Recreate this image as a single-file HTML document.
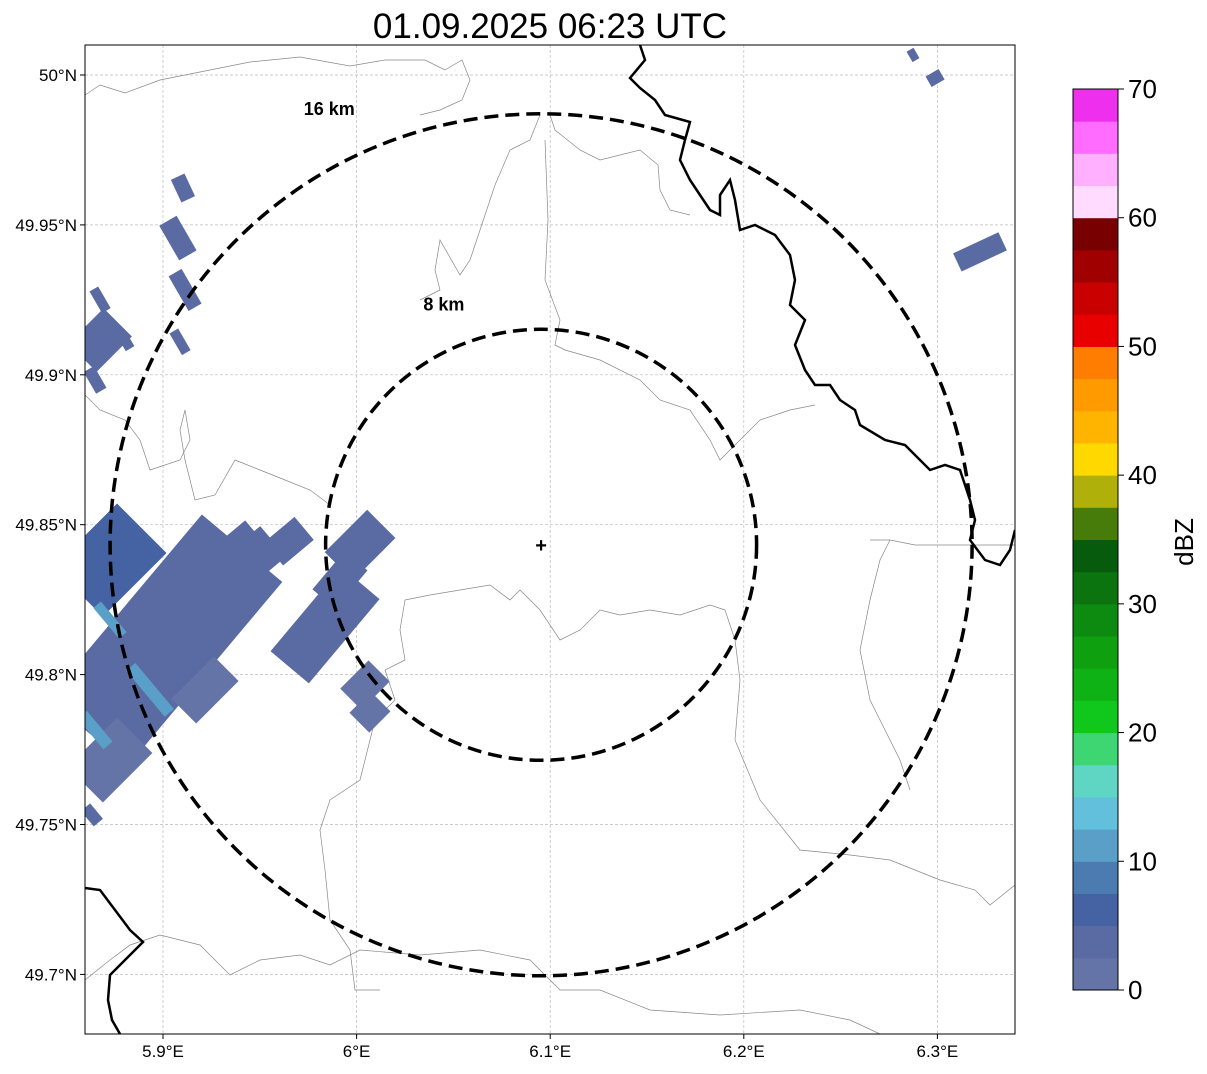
<!DOCTYPE html>
<html><head><meta charset="utf-8"><style>
body{margin:0;background:#fff;font-family:"Liberation Sans",sans-serif}
svg text{font-family:"Liberation Sans",sans-serif}
</style></head><body>
<svg id="c" width="1207" height="1069" viewBox="0 0 1207 1069" xmlns="http://www.w3.org/2000/svg">
<text x="550" y="38" font-size="35" text-anchor="middle">01.09.2025 06:23 UTC</text>
<defs><clipPath id="pc"><rect x="85" y="45" width="930" height="989"/></clipPath></defs>
<g id="map" clip-path="url(#pc)"></g>
<rect x="85" y="45" width="930" height="989" fill="none" stroke="#000" stroke-width="1"/>
<g id="axes"></g>
<g id="cbar"></g>
<text transform="translate(1193,542) rotate(-90)" font-size="26" text-anchor="middle">dBZ</text>
</svg>
<script>
const lonTicks=[5.9,6.0,6.1,6.2,6.3];
const lonLabels=["5.9°E","6°E","6.1°E","6.2°E","6.3°E"];
const latTicks=[50.0,49.95,49.9,49.85,49.8,49.75,49.7];
const latLabels=["50°N","49.95°N","49.9°N","49.85°N","49.8°N","49.75°N","49.7°N"];
const cbTicks=[0,10,20,30,40,50,60,70];
const cbColors=["#6574a7","#5a6ba3","#4562a3","#4b7bb1","#5a9fc8","#62c0dc","#5fd6c4","#3ed672","#10c81c","#0eb214","#0fa010","#0d8a10","#0b740f","#065c0c","#477b0a","#b0b00a","#ffd800","#ffb400","#ff9a00","#ff7d00","#e80000","#c80000","#a00000","#780000","#ffdcff","#ffb0ff","#ff6cff","#ee30ee"];
const radarCenter=[6.0953,49.8433];
const ringKm=[8,16];
const ringLabelLon=[6.0345,5.9727];
const ringLabelLat=[49.9215,49.9866];
// radar cells: lon, lat, length, width, dBZ, angle
const cellLon=[5.901,5.8726,5.8726,5.9372,5.9217,5.9837,6.0018,6.0043,6.0069,5.9914,5.9103,5.9077,5.9114,5.8675,5.8675,5.8804,5.9088,5.8649,6.322,6.2874,6.2988,5.8633,5.8933,5.8726,5.8649,5.945,5.965];
const cellLat=[49.8115,49.8382,49.7715,49.8425,49.7949,49.8165,49.8432,49.7965,49.7875,49.8316,49.9623,49.9456,49.9283,49.9116,49.925,49.9116,49.911,49.8983,49.941,50.0067,49.999,49.7532,49.7949,49.8182,49.7815,49.838,49.8445];
const cellLen=[240,90,70,50,60,110,60,40,30,50,25,40,40,50,25,20,25,25,50,12,15,20,60,40,40,60,40];
const cellWid=[105,70,50,28,35,50,40,30,28,30,15,20,15,40,10,10,10,12,20,8,12,12,12,10,12,40,30];
const cellDbz=[3,5,2,3,2,3,3,2,2,3,3,3,3,3,3,3,3,3,3,3,3,3,11,11,11,3,3];
const cellAng=[-50,-45,-45,-40,-45,-50,-45,-45,-45,-50,65,60,60,-45,60,60,60,60,-25,60,-30,50,50,50,50,-40,-40];

const X=lon=>163+(lon-5.9)*1936;
const Y=lat=>75+(50-lat)*2998;
const NS="http://www.w3.org/2000/svg";
function mk(tag,attrs,parent){const e=document.createElementNS(NS,tag);for(const k in attrs)e.setAttribute(k,attrs[k]);parent.appendChild(e);return e;}
const map=document.getElementById('map'),axes=document.getElementById('axes'),cbar=document.getElementById('cbar');
const colorFor=d=>cbColors[Math.max(0,Math.min(27,Math.floor(d/2.5)))];

lonTicks.forEach((t,i)=>{const x=X(t);
 const g=mk('line',{x1:x,x2:x,y1:45,y2:1034,stroke:'#bbb','stroke-width':0.7,'stroke-dasharray':'3,2'},map);
 
 mk('line',{x1:x,x2:x,y1:1034,y2:1039,stroke:'#000'},axes);
 const tx=mk('text',{x:x,y:1057,'font-size':17,'text-anchor':'middle'},axes);tx.textContent=lonLabels[i];
 });
latTicks.forEach((t,i)=>{const y=Y(t);
 const g=mk('line',{x1:85,x2:1015,y1:y,y2:y,stroke:'#bbb','stroke-width':0.7,'stroke-dasharray':'3,2'},map);
 
 mk('line',{x1:80,x2:85,y1:y,y2:y,stroke:'#000'},axes);
 const tx=mk('text',{x:77,y:y+6,'font-size':17,'text-anchor':'end'},axes);tx.textContent=latLabels[i];
 });

const thin=[
"85,95 100,85 125,93 160,80 200,72 250,62 300,57 350,66 385,60 425,60 445,70 462,60 470,80 462,100 440,110 420,115",
"540,115 530,140 510,150 495,185 480,230 470,260 460,275 440,240 435,270 440,290 420,300",
"550,115 555,130 580,150 600,160 640,150 658,165 660,190 670,210 690,215",
"545,140 548,220 545,280 560,320 555,345 565,350",
"85,395 100,410 125,420 140,440 150,470 180,460 190,440 185,410 180,430 185,460 195,500 215,495 235,460 260,470 285,480 310,490 330,505",
"405,600 430,595 460,590 490,585 510,600 520,590 540,610 560,640 580,630 600,610 620,615 650,610 680,615 710,605 725,610",
"405,600 400,630 405,660 385,670 395,700 375,720 370,740 360,780 330,800 320,830 325,870 330,920 350,950 355,990 380,990",
"565,350 600,360 640,380 660,400 690,410 710,440 720,460 740,440 760,420 790,410 815,405",
"725,610 735,640 740,680 735,740 760,800 800,850 850,855 890,860 940,880 975,890 990,905 1015,885",
"85,980 110,960 130,945 160,935 200,945 230,975 260,960 300,955 330,965 360,950 420,955 480,950 530,960 560,990 600,990 650,1010 720,1015 800,1010 850,1020 880,1034",
"870,540 890,540 915,545 960,545 1015,545",
"890,540 880,560 870,600 860,650 870,700 880,720 900,760 910,790"
];
thin.forEach(p=>{const e=mk('polyline',{points:p,fill:'none',stroke:'#888','stroke-width':0.7},map);
 });
const thick=[
"640,45 645,60 630,78 640,88 655,100 665,115 690,122 685,140 680,160 690,180 700,195 710,210 720,215 720,195 730,180 735,200 740,230 755,225 775,235 790,255 795,280 790,305 805,320 795,345 805,370 815,385 830,385 840,400 855,410 860,425 885,440 905,445 915,455 930,470 945,465 960,470 965,485 970,500 975,520 970,540 985,560 1000,565 1010,550 1015,530",
"85,888 100,890 115,910 130,930 143,942 125,960 110,975 108,1000 112,1020 120,1034"];
thick.forEach(p=>{const e=mk('polyline',{points:p,fill:'none',stroke:'#000','stroke-width':2.5},map);
 });

cellLon.forEach((lon,i)=>{const cx=X(lon),cy=Y(cellLat[i]),L=cellLen[i],W=cellWid[i];
 const r=mk('rect',{x:cx-L/2,y:cy-W/2,width:L,height:W,fill:colorFor(cellDbz[i]),transform:`rotate(${cellAng[i]} ${cx} ${cy})`},map);
 });

const cx0=X(radarCenter[0]),cy0=Y(radarCenter[1]);
const pxPerKm=215.5/8;
ringKm.forEach((k,i)=>{const c=mk('circle',{cx:cx0,cy:cy0,r:k*pxPerKm,fill:'none',stroke:'#000','stroke-width':3.5,'stroke-dasharray':'14,7'},map);
 
 const t=mk('text',{x:X(ringLabelLon[i]),y:Y(ringLabelLat[i]),'font-size':18,'font-weight':'bold'},map);
 t.textContent=k+' km';});
const m=mk('text',{x:cx0,y:cy0+7,'font-size':20,'font-weight':'bold','text-anchor':'middle'},map);m.textContent='+';


const cbY=v=>990-(v/70)*901;
cbColors.forEach((c,i)=>{const y1=cbY((i+1)*2.5),y0=cbY(i*2.5);
 const r=mk('rect',{x:1073,y:y1,width:45,height:y0-y1+0.5,fill:c},cbar);
 });
mk('rect',{x:1073,y:89,width:45,height:901,fill:'none',stroke:'#000','stroke-width':1},cbar);
cbTicks.forEach(v=>{const y=cbY(v);mk('line',{x1:1118,x2:1124,y1:y,y2:y,stroke:'#000'},cbar);
 const t=mk('text',{x:1128,y:y+9,'font-size':26},cbar);t.textContent=v;
 });
</script>
</body></html>
